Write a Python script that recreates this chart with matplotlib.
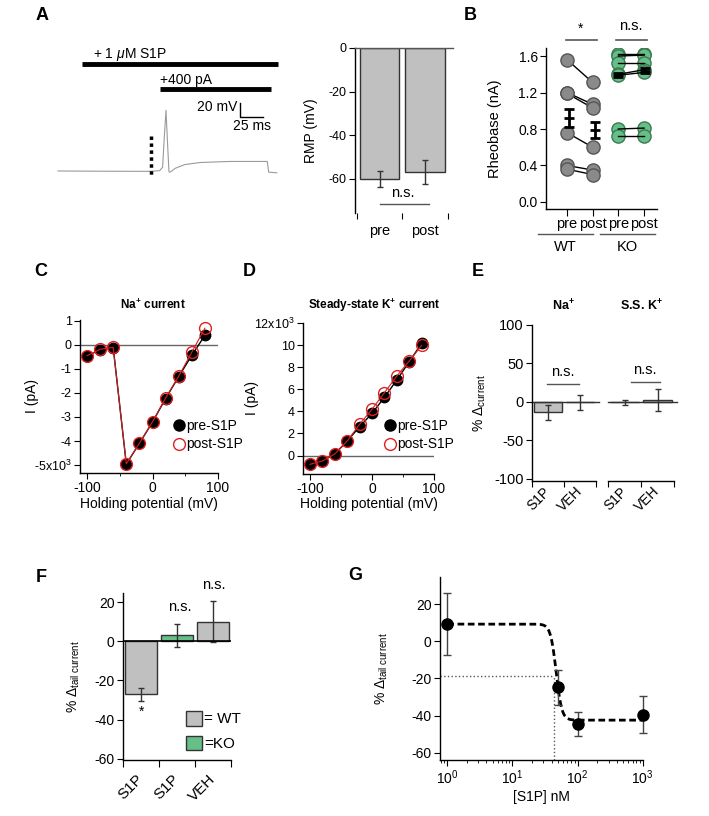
import numpy as np
import matplotlib.pyplot as plt
from matplotlib.lines import Line2D
from matplotlib.patches import Patch

plt.rcParams['font.family'] = ['Liberation Sans', 'DejaVu Sans']
plt.rcParams['mathtext.fontset'] = 'custom'
plt.rcParams['mathtext.rm'] = 'Liberation Sans'
plt.rcParams['mathtext.it'] = 'Liberation Sans:italic'
plt.rcParams['mathtext.bf'] = 'Liberation Sans:bold'
plt.rcParams['axes.unicode_minus'] = False
plt.rcParams['axes.linewidth'] = 1.0
plt.rcParams['xtick.major.size'] = 4
plt.rcParams['ytick.major.size'] = 4
plt.rcParams['xtick.minor.size'] = 2.5
plt.rcParams['xtick.major.pad'] = 2
plt.rcParams['ytick.major.pad'] = 2
plt.rcParams['font.size'] = 9

# ---- data ----
# A: example trace (ms, mV) and resting membrane potential
trace_t = [0, 40, 96, 106, 109, 110.5, 112.5, 114, 115.6, 117, 122, 132, 148, 179, 218, 219.5, 228]
trace_v = [-60, -60.3, -60.5, -59.5, -55, -20, 21, -20, -61, -61.5, -56.5, -51.5, -48.7, -47.3, -47.3, -61.5, -62.5]
rmp_labels = ['pre', 'post']
rmp_mean = [-60, -57]
rmp_err = [3.5, 5.5]

# B: rheobase (nA)
rheo_labels = ['pre', 'post', 'pre', 'post']
wt_pre = [1.56, 1.20, 1.19, 0.76, 0.40, 0.36]
wt_post = [1.31, 1.07, 1.03, 0.60, 0.35, 0.30]
ko_pre = [1.62, 1.60, 1.52, 1.40, 1.39, 0.80, 0.72]
ko_post = [1.62, 1.61, 1.52, 1.45, 1.42, 0.81, 0.72]
wt_mean = [0.92, 0.79]
wt_sem = [0.10, 0.085]
ko_mean = [1.39, 1.44]
ko_sem = [0.02, 0.025]

# C, D: I-V curves (x10^3 pA)
volt = [-100, -80, -60, -40, -20, 0, 20, 40, 60, 80]
na_pre = [-0.47, -0.19, -0.11, -4.96, -4.10, -3.21, -2.23, -1.32, -0.43, 0.40]
na_post = [-0.45, -0.18, -0.10, -4.95, -4.09, -3.20, -2.21, -1.30, -0.30, 0.70]
k_pre = [-0.79, -0.49, 0.14, 1.32, 2.61, 3.82, 5.27, 6.84, 8.49, 10.15]
k_post = [-0.79, -0.49, 0.14, 1.32, 2.83, 4.19, 5.69, 7.20, 8.55, 9.97]

# E: % change in current
treat_e = ['S1P', 'VEH']
na_pct = [-13.5, -0.5]
na_pct_err = [10, 10.2]
k_pct = [-0.5, 2.5]
k_pct_err = [3.5, 14.5]

# F: % change in tail current
treat_f = ['S1P', 'S1P', 'VEH']
geno_f = ['WT', 'KO', 'WT']
tail_mean = [-27, 3, 10]
tail_err = [3.3, 5.7, 10.4]

# G: dose response
conc = [1, 50, 100, 1000]
dose_mean = [9.3, -24.8, -44.8, -39.7]
dose_err = [16.8, 9.4, 6.5, 10]
fit_top = 9.3
fit_bottom = -42.5
fit_ec50 = 47
fit_hill = 10
half_level = -18.5
half_conc = 44

gray = '#c0c0c0'
green = '#66bf88'
edge = '#333333'

W, H = 709, 816
fig = plt.figure(figsize=(W / 100, H / 100), dpi=100)


def box(x0, y0, x1, y1):
    return fig.add_axes([x0 / W, 1 - y1 / H, (x1 - x0) / W, (y1 - y0) / H])


def fx(x):
    return x / W


def fy(y):
    return 1 - y / H


def ylab_at(ax, text, px, size=10):
    ax.set_ylabel(text, fontsize=size)
    b = ax.get_position()
    ax.yaxis.set_label_coords((fx(px) - b.x0) / b.width, 0.5)


def xlab_at(ax, text, py, size=10):
    ax.set_xlabel(text, fontsize=size)
    b = ax.get_position()
    ax.xaxis.set_label_coords(0.5, (fy(py) - b.y0) / b.height)


def clean(ax):
    ax.spines['top'].set_visible(False)
    ax.spines['right'].set_visible(False)


def fline(x0, x1, y, **kw):
    fig.add_artist(Line2D([fx(x0), fx(x1)], [fy(y), fy(y)], transform=fig.transFigure, **kw))


# panel letters
for letter, px, py in [('A', 42, 15), ('B', 470, 15), ('C', 41, 272), ('D', 249, 272),
                       ('E', 478, 272), ('F', 41, 577), ('G', 355, 575)]:
    fig.text(fx(px), fy(py), letter, fontsize=13, fontweight='bold', ha='center', va='center')

# ---- A: trace ----
ax = box(50, 40, 290, 185)
ax.set_xlim(-8.33, 241.7)
ax.set_ylim(-78.7, 114.7)
ax.axis('off')
ax.plot(trace_t, trace_v, color='#9a9a9a', lw=0.8)
ax.plot([25, 229], [82.7, 82.7], color='k', lw=3.5, solid_capstyle='butt')
ax.text(36.5, 94.7, r'+ 1 $\mu$M S1P', fontsize=10, va='center')
ax.plot([106, 222], [49.3, 49.3], color='k', lw=3.5, solid_capstyle='butt')
ax.text(106, 61.3, '+400 pA', fontsize=10, va='center')
ax.plot([189.6, 189.6, 213.5], [30.7, 12, 12], color='k', lw=1)
ax.text(186.5, 25.3, '20 mV', ha='right', va='center', fontsize=10)
ax.text(201.6, 0, '25 ms', ha='center', va='center', fontsize=10)
ax.plot([96.9, 96.9], [-13.3, -66.7], color='k', lw=2.5, ls=(0, (1, 1)))

# ---- A: RMP bars ----
ax = box(355, 48, 453, 213)
clean(ax)
ax.spines['bottom'].set_visible(False)
x = np.arange(len(rmp_labels))
ax.bar(x, rmp_mean, width=0.87, color=gray, edgecolor=edge, lw=1, zorder=2)
ax.errorbar(x, rmp_mean, yerr=rmp_err, fmt='none', ecolor=edge, elinewidth=1, capsize=2.5, zorder=3)
ax.axhline(0, color='#555555', lw=1, clip_on=False, zorder=4)
ax.set_xlim(-0.55, 1.62)
ax.set_ylim(-75.6, 0)
ax.set_yticks([0, -20, -40, -60])
ax.set_xticks([-0.5, 0.5, 1.5])
ax.set_xticklabels([])
ax.set_xticks(x, minor=True)
ax.set_xticklabels(rmp_labels, minor=True, fontsize=10.5)
ax.tick_params(axis='x', which='minor', length=0, pad=8)
ax.plot([0, 1.09], [-71.5, -71.5], color='#555555', lw=1, clip_on=False)
ax.text(0.51, -66.4, 'n.s.', ha='center', va='center', fontsize=10.5)
ylab_at(ax, 'RMP (mV)', 318)

# ---- B: rheobase ----
ax = box(546, 48, 657, 209)
clean(ax)
for a, b in zip(wt_pre, wt_post):
    ax.plot([0, 1], [a, b], color='k', lw=1, zorder=2)
ax.plot([0] * len(wt_pre), wt_pre, 'o', ms=9.5, mfc='#8a8a8a', mec='#555555', zorder=3)
ax.plot([1] * len(wt_post), wt_post, 'o', ms=9.5, mfc='#8a8a8a', mec='#555555', zorder=3)
ax.plot([2] * len(ko_pre), ko_pre, 'o', ms=9.5, mfc=green, mec='#3d7a52', zorder=3)
ax.plot([3] * len(ko_post), ko_post, 'o', ms=9.5, mfc=green, mec='#3d7a52', zorder=3)
for a, b in zip(ko_pre, ko_post):
    ax.plot([2, 3], [a, b], color='k', lw=1, zorder=4)
ax.errorbar([0.06, 1.08], wt_mean, yerr=wt_sem, fmt='_', color='k', ms=7, mew=2,
            elinewidth=2, capsize=3.5, capthick=2, zorder=5)
ax.errorbar([1.98, 3.05], ko_mean, yerr=ko_sem, fmt='_', color='k', ms=7, mew=2,
            elinewidth=2, capsize=3.5, capthick=2, zorder=5)
ax.set_xlim(-0.817, 3.502)
ax.set_ylim(-0.077, 1.688)
ax.set_yticks([0, 0.4, 0.8, 1.2, 1.6])
ax.set_yticklabels(['0.0', '0.4', '0.8', '1.2', '1.6'], fontsize=10)
ax.set_xticks(range(4))
ax.set_xticklabels(rheo_labels, fontsize=10.5)
ax.tick_params(axis='x', length=5, pad=0.5)
ylab_at(ax, 'Rheobase (nA)', 502, 10.5)
fline(538, 593, 234, color='#555555', lw=1)
fline(600, 655, 234, color='#555555', lw=1)
fig.text(fx(565), fy(247), 'WT', ha='center', va='center', fontsize=10.5)
fig.text(fx(627), fy(247), 'KO', ha='center', va='center', fontsize=10.5)
fline(566, 597, 40, color='#555555', lw=1.2)
fline(616, 647, 40, color='#555555', lw=1.2)
fig.text(fx(581), fy(29), '*', ha='center', va='center', fontsize=10)
fig.text(fx(631), fy(26), 'n.s.', ha='center', va='center', fontsize=10.5)

# ---- C, D: I-V ----
leg_handles = [Line2D([], [], marker='o', ls='none', color='k', ms=8),
               Line2D([], [], marker='o', ls='none', mfc='none', mec='#e02020', ms=8.5)]
iv_panels = [
    ((80, 320, 218, 472.7), (-110.7, 100), (-5.32, 1.04), na_pre, na_post,
     list(range(-5, 2)), [r'-5x10$^3$', '-4', '-3', '-2', '-1', '0', '1'],
     r'Na$^{\mathbf{+}}$ current', 153, 39, 168),
    ((303, 323, 434, 473.7), (-111.3, 100), (-1.64, 12.0), k_pre, k_post,
     list(range(0, 13, 2)), ['0', '2', '4', '6', '8', '10', r'12x10$^3$'],
     r'Steady-state K$^{\mathbf{+}}$ current', 374, 259, 379),
]
for rect, xl, yl, pre, post, yt, ytl, title, tx, lx, legx in iv_panels:
    ax = box(*rect)
    clean(ax)
    ax.axhline(0, color='#666666', lw=1, zorder=1)
    ax.plot(volt, pre, '-o', color='k', ms=7.5, lw=1, zorder=3)
    ax.plot(volt, post, '-o', color='#d02020', mfc='none', mec='#e02020', ms=8.5, lw=0.8, mew=1, zorder=4)
    ax.set_xlim(*xl)
    ax.set_ylim(*yl)
    ax.set_xticks([-100, 0, 100])
    ax.set_xticks([-50, 50], minor=True)
    ax.set_yticks(yt)
    ax.set_yticklabels(ytl, fontsize=9)
    ax.tick_params(axis='x', labelsize=10)
    ylab_at(ax, 'I (pA)', lx)
    xlab_at(ax, 'Holding potential (mV)', 497, 10)
    fig.text(fx(tx), fy(305), title, ha='center', va='center', fontsize=8.5, fontweight='bold')
    ax.legend(leg_handles, ['pre-S1P', 'post-S1P'], loc='center left',
              bbox_to_anchor=(fx(legx), fy(435)), bbox_transform=fig.transFigure,
              frameon=False, handlelength=0.6, handletextpad=0.2, borderpad=0,
              labelspacing=0.35, fontsize=10)

# ---- E: % change ----
ax1 = box(532, 325, 596, 481)
ax2 = box(608, 325, 674, 481)
for ax, means, errs in [(ax1, na_pct, na_pct_err), (ax2, k_pct, k_pct_err)]:
    clean(ax)
    ax.bar([0, 1], means, width=0.86, color=gray, edgecolor=edge, lw=1, zorder=2)
    ax.errorbar([0, 1], means, yerr=errs, fmt='none', ecolor=edge, elinewidth=1, capsize=2.5, zorder=3)
    ax.plot([-0.5, 1.6], [0, 0], color=edge, lw=1, clip_on=False, zorder=2)
    ax.set_xlim(-0.5, 1.5)
    ax.set_ylim(-102.6, 100)
    ax.set_xticks([-0.5, 0.5, 1.5])
    ax.set_xticklabels([])
    ax.set_xticks([0, 1], minor=True)
    ax.set_xticklabels(treat_e, minor=True, rotation=45, ha='right', va='center',
                       rotation_mode='anchor', fontsize=10)
    ax.tick_params(axis='x', which='minor', length=0, pad=6)
ax2.spines['left'].set_visible(False)
ax2.set_yticks([])
ax1.set_yticks([100, 50, 0, -50, -100])
ax1.tick_params(axis='y', labelsize=10.5)
ylab_at(ax1, r'% $\Delta_{\mathrm{current}}$', 488, 10)
fig.text(fx(563), fy(306), r'Na$^{\mathbf{+}}$', ha='center', va='center', fontsize=9, fontweight='bold')
fig.text(fx(641), fy(306), r'S.S. K$^{\mathbf{+}}$', ha='center', va='center', fontsize=9, fontweight='bold')
fline(547, 579, 384, color='#555555', lw=1)
fline(631, 660, 382, color='#555555', lw=1)
fig.text(fx(563), fy(372), 'n.s.', ha='center', va='center', fontsize=10.5)
fig.text(fx(645), fy(370), 'n.s.', ha='center', va='center', fontsize=10.5)

# ---- F: tail current ----
ax = box(123, 593, 231, 760)
clean(ax)
xf = np.arange(len(treat_f))
cols = [gray if g == 'WT' else green for g in geno_f]
ax.bar(xf, tail_mean, width=0.87, color=cols, edgecolor=edge, lw=1, zorder=2)
ax.errorbar(xf, tail_mean, yerr=tail_err, fmt='none', ecolor=edge, elinewidth=1, capsize=2.5, zorder=3)
ax.axhline(0, color='k', lw=1.2, zorder=4)
ax.set_xlim(-0.5, 2.5)
ax.set_ylim(-60.6, 24.6)
ax.set_yticks([20, 0, -20, -40, -60])
ax.tick_params(axis='y', labelsize=10)
ax.set_xticks([-0.5, 0.5, 1.5, 2.5])
ax.set_xticklabels([])
ax.tick_params(axis='x', which='major', length=5)
ax.set_xticks(xf, minor=True)
ax.set_xticklabels(treat_f, minor=True, rotation=45, ha='right', va='center',
                   rotation_mode='anchor', fontsize=11)
ax.tick_params(axis='x', which='minor', length=0, pad=12)
ylab_at(ax, r'% $\Delta_{\mathrm{tail\ current}}$', 82, 10)
fig.text(fx(142), fy(712), '*', ha='center', va='center', fontsize=10)
fig.text(fx(180), fy(607), 'n.s.', ha='center', va='center', fontsize=10.5)
fig.text(fx(214), fy(585), 'n.s.', ha='center', va='center', fontsize=10.5)
ax.legend([Patch(facecolor=gray, edgecolor=edge), Patch(facecolor=green, edgecolor=edge)],
          ['= WT', '=KO'], loc='center left', bbox_to_anchor=(fx(178), fy(731)),
          bbox_transform=fig.transFigure, frameon=False, handlelength=1.1, handleheight=1.1,
          handletextpad=0.1, borderpad=0, labelspacing=0.6, fontsize=11)

# ---- G: dose response ----
ax = box(440, 577, 643, 760)
clean(ax)
ax.set_xscale('log')
xx = np.logspace(0, 3, 400)
yy = fit_bottom + (fit_top - fit_bottom) / (1 + (xx / fit_ec50) ** fit_hill)
ax.plot(xx, yy, color='k', lw=2, ls=(0, (2.4, 1.3)), zorder=2)
ax.plot([10 ** -0.112, half_conc], [half_level, half_level], ls=':', color='#555555', lw=1)
ax.plot([half_conc, half_conc], [-64, half_level], ls=':', color='#555555', lw=1)
eb = ax.errorbar(conc, dose_mean, yerr=dose_err, fmt='o', color='k', ms=8, ecolor='#444444',
                 elinewidth=1, capsize=3, zorder=3)
for art in eb.lines[0:1] + tuple(eb.lines[1]) + tuple(eb.lines[2]):
    art.set_clip_on(False)
ax.set_xlim(10 ** -0.112, 10 ** 3.006)
ax.set_ylim(-64, 34.7)
ax.set_yticks([20, 0, -20, -40, -60])
ax.tick_params(axis='both', labelsize=10)
ylab_at(ax, r'% $\Delta_{\mathrm{tail\ current}}$', 390, 10)
xlab_at(ax, '[S1P] nM', 790, 10)

fig.savefig('out.png', dpi=100)
